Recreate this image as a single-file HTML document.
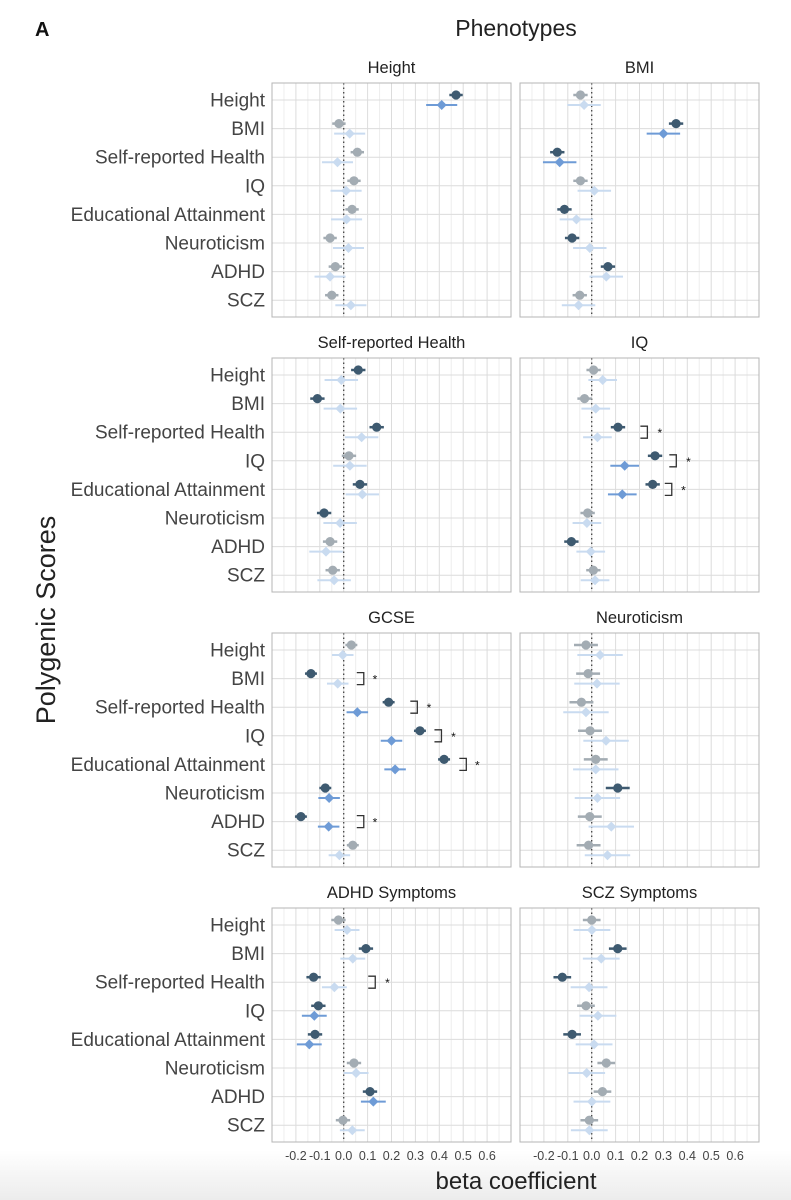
<!DOCTYPE html>
<html><head><meta charset="utf-8">
<style>
html,body{margin:0;padding:0;background:#fff;}
body{width:791px;height:1200px;overflow:hidden;position:relative;font-family:"Liberation Sans",sans-serif;}
#bg{position:absolute;left:0;top:1150px;width:791px;height:50px;background:linear-gradient(#fff,#ececec);}
svg{position:absolute;left:0;top:0;}
</style></head>
<body>
<div id="bg"></div>
<svg id="chart" width="791" height="1200">
<text x="35" y="36" font-size="20" font-weight="bold" fill="#111">A</text>
<text x="516" y="36" font-size="23" fill="#222" text-anchor="middle">Phenotypes</text>
<text x="516" y="1189" font-size="24" fill="#222" text-anchor="middle">beta coefficient</text>
<text transform="translate(55,620) rotate(-90)" font-size="27" fill="#222" text-anchor="middle">Polygenic Scores</text>
</svg>
<script>
const categories = ["Height","BMI","Self-reported Health","IQ","Educational Attainment","Neuroticism","ADHD","SCZ"];
const panelTitles = ["Height","BMI","Self-reported Health","IQ","GCSE","Neuroticism","ADHD Symptoms","SCZ Symptoms"];
const xTicks = [-0.2,-0.1,0.0,0.1,0.2,0.3,0.4,0.5,0.6];
const xTickLabels = ["-0.2","-0.1","0.0","0.1","0.2","0.3","0.4","0.5","0.6"];
// dark (circle) estimates per panel
const darkValues = [
 [0.47,-0.02,0.057,0.043,0.035,-0.057,-0.035,-0.05],
 [-0.047,0.353,-0.144,-0.047,-0.114,-0.082,0.068,-0.05],
 [0.061,-0.11,0.138,0.022,0.068,-0.082,-0.057,-0.046],
 [0.008,-0.03,0.11,0.265,0.255,-0.017,-0.085,0.007],
 [0.032,-0.137,0.188,0.319,0.42,-0.077,-0.179,0.038],
 [-0.024,-0.015,-0.043,-0.007,0.017,0.109,-0.008,-0.013],
 [-0.022,0.093,-0.126,-0.106,-0.12,0.043,0.11,-0.003],
 [0.0,0.109,-0.123,-0.024,-0.082,0.061,0.045,-0.01]
];
// light (diamond) estimates per panel
const lightValues = [
 [0.41,0.025,-0.026,0.01,0.012,0.02,-0.057,0.03],
 [-0.032,0.30,-0.134,0.011,-0.064,-0.008,0.061,-0.055],
 [-0.01,-0.014,0.075,0.026,0.078,-0.015,-0.074,-0.04],
 [0.046,0.017,0.024,0.138,0.128,-0.02,-0.004,0.014],
 [-0.004,-0.025,0.057,0.2,0.215,-0.061,-0.063,-0.018],
 [0.035,0.022,-0.024,0.06,0.017,0.024,0.082,0.066],
 [0.014,0.038,-0.039,-0.123,-0.144,0.052,0.124,0.036],
 [0.001,0.04,-0.011,0.026,0.01,-0.021,0.001,-0.01]
];
const darkCI = [0.028,0.03,0.03,0.03,0.025,0.05,0.03,0.037];
const lightCI = [0.065,0.07,0.07,0.06,0.045,0.095,0.052,0.077];
const darkSig = [
 [1,0,0,0,0,0,0,0],[0,1,1,0,1,1,1,0],[1,1,1,0,1,1,0,0],[0,0,1,1,1,0,1,0],
 [0,1,1,1,1,1,1,0],[0,0,0,0,0,1,0,0],[0,1,1,1,1,0,1,0],[0,1,1,0,1,0,0,0]
];
const lightSig = [
 [1,0,0,0,0,0,0,0],[0,1,1,0,0,0,0,0],[0,0,0,0,0,0,0,0],[0,0,0,1,1,0,0,0],
 [0,0,1,1,1,1,1,0],[0,0,0,0,0,0,0,0],[0,0,0,1,1,0,1,0],[0,0,0,0,0,0,0,0]
];
// significant-difference brackets
const bracketPanels = [3,3,3,4,4,4,4,4,6];
const bracketRows = [2,3,4,1,2,3,4,6,2];
const bracketValues = [0.233,0.354,0.335,0.084,0.308,0.409,0.513,0.084,0.132];
const starValues = [0.285,0.405,0.384,0.131,0.357,0.459,0.559,0.131,0.183];

const NS="http://www.w3.org/2000/svg";
const svg=document.getElementById('chart');
const DMIN=-0.3,DMAX=0.7,PW=239,BH=234;
const colX=[272,520], rowTop=[83,358,633,908];
function mk(tag,attrs,parent){const e=document.createElementNS(NS,tag);for(const k in attrs)e.setAttribute(k,attrs[k]);(parent||svg).appendChild(e);return e;}
function px(p){return colX[p%2];}
function py(p){return rowTop[Math.floor(p/2)];}
function xs(p,v){return px(p)+(v-DMIN)/(DMAX-DMIN)*PW;}
function ys(p,i){return py(p)+17+i*28.6;}

for(let p=0;p<8;p++){
  const g=mk('g',{});
  
  
  const x0=px(p),y0=py(p);
  const t=mk('text',{x:x0+PW/2,y:y0-10,'font-size':16.5,fill:'#222','text-anchor':'middle'},g);
  t.textContent=panelTitles[p];
  
  
  for(let v=-0.25;v<0.7;v+=0.1){mk('line',{x1:xs(p,v),x2:xs(p,v),y1:y0,y2:y0+BH,stroke:'#eeeeee','stroke-width':1},g);}
  xTicks.forEach(v=>mk('line',{x1:xs(p,v),x2:xs(p,v),y1:y0,y2:y0+BH,stroke:'#dcdcdc','stroke-width':1},g));
  categories.forEach((c,i)=>mk('line',{x1:x0,x2:x0+PW,y1:ys(p,i),y2:ys(p,i),stroke:'#dcdcdc','stroke-width':1},g));
  mk('line',{x1:xs(p,0),x2:xs(p,0),y1:y0,y2:y0+BH,stroke:'#444','stroke-width':1.3,'stroke-dasharray':'1.5,3'},g);
  mk('rect',{x:x0,y:y0,width:PW,height:BH,fill:'none',stroke:'#b5b5b5','stroke-width':1},g);
  if(p%2===0){
    categories.forEach((c,i)=>{
      const l=mk('text',{x:265,y:ys(p,i)+6.5,'font-size':19,fill:'#444','text-anchor':'end'},g);
      l.textContent=c;
      
      
    });
  }
  if(p>=6){
    xTicks.forEach((v,k)=>{
      const l=mk('text',{x:xs(p,v),y:y0+BH+18,'font-size':12.5,fill:'#444','text-anchor':'middle'},g);
      l.textContent=xTickLabels[k];
      
      
    });
  }
  categories.forEach((c,i)=>{
    const lv=lightValues[p][i], ls=lightSig[p][i];
    const lc=ls?'#6e9bd6':'#c9dbf0';
    const yl=ys(p,i)+5;
    mk('line',{x1:xs(p,lv-lightCI[p]),x2:xs(p,lv+lightCI[p]),y1:yl,y2:yl,stroke:lc,'stroke-width':2},g);
    const d=mk('path',{d:`M${xs(p,lv)},${yl-5}L${xs(p,lv)+5},${yl}L${xs(p,lv)},${yl+5}L${xs(p,lv)-5},${yl}Z`,fill:lc},g);
    
    
    const dv=darkValues[p][i], ds=darkSig[p][i];
    const dc=ds?'#3e5a70':'#a3acb3';
    const yd=ys(p,i)-5;
    mk('line',{x1:xs(p,dv-darkCI[p]),x2:xs(p,dv+darkCI[p]),y1:yd,y2:yd,stroke:dc,'stroke-width':2.5},g);
    const cc=mk('circle',{cx:xs(p,dv),cy:yd,r:4.6,fill:dc},g);
    
    
  });
}
bracketPanels.forEach((p,k)=>{
  const i=bracketRows[k], bx=xs(p,bracketValues[k]);
  const y1=ys(p,i)-6,y2=ys(p,i)+6;
  const b=mk('path',{d:`M${bx-7},${y1}L${bx},${y1}L${bx},${y2}L${bx-7},${y2}`,fill:'none',stroke:'#333','stroke-width':1.3});
  
  
  const s=mk('text',{x:xs(p,starValues[k]),y:ys(p,i)+5,'font-size':12,fill:'#111','text-anchor':'middle'});
  s.textContent='*';
  
  
});
</script>
</body></html>
